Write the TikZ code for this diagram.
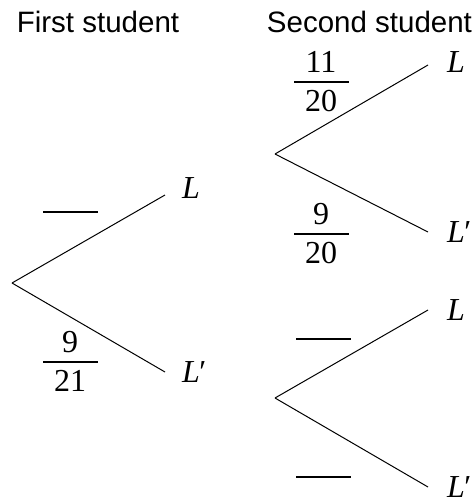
\documentclass[tikz,border=0pt]{standalone}
\usepackage{fontspec}
\setmainfont{Liberation Serif}
\newfontfamily\headfont{Liberation Sans}
\usetikzlibrary{positioning}
\tikzset{
  every node/.style={inner sep=0pt, outer sep=0pt},
  branch/.style={draw=black, line width=1pt},
  head/.style={font=\headfont\fontsize{29.5}{32}\selectfont},
  leaf/.style={font=\fontsize{32}{36}\selectfont\itshape, anchor=west},
  fbar/.style={minimum width=55pt, minimum height=1.1pt, fill=black},
  num/.style={font=\fontsize{32}{36}\selectfont},
}
\newcommand{\Lp}{L\kern-2.5pt′}
\begin{document}
\begin{tikzpicture}[x=1pt, y=-1pt]
\useasboundingbox (0,0) rectangle (472,504);
% ---- headings -----------------------------------------------------------------
\node[head] (first)  at (98, 22) {First student};
\node[head, anchor=east] (second) at (472, 22) {Second student};

% ---- first student ------------------------------------------------------------
\coordinate (r1)  at (12, 283);
\coordinate (r1u) at (165, 195);
\coordinate (r1d) at (165, 372);
\node[leaf, right=17pt of r1u, yshift=7pt] (r1uL) {L};
\node[leaf, right=17pt of r1d] (r1dL) {\Lp};
\draw[branch] (r1) -- (r1u);
\draw[branch] (r1) -- (r1d);
\node[fbar] (b1u) at (70, 212) {};
\node[fbar] (b1d) at (70, 362) {};
\node[num, above=9pt of b1d] (n1d) {9};
\node[num, below=8pt of b1d] (d1d) {21};

% ---- second student, upper ----------------------------------------------------
\coordinate (r2)  at (275, 154);
\coordinate (r2u) at (428, 65);
\coordinate (r2d) at (428, 232);
\node[leaf, right=19pt of r2u, yshift=3pt] (r2uL) {L};
\node[leaf, right=19pt of r2d] (r2dL) {\Lp};
\draw[branch] (r2) -- (r2u);
\draw[branch] (r2) -- (r2d);
\node[fbar] (b2u) at (321, 82) {};
\node[num, above=9pt of b2u] (n2u) {11};
\node[num, below=8pt of b2u] (d2u) {20};
\node[fbar] (b2d) at (321, 234) {};
\node[num, above=9pt of b2d] (n2d) {9};
\node[num, below=8pt of b2d] (d2d) {20};

% ---- second student, lower ----------------------------------------------------
\coordinate (r3)  at (275, 398);
\coordinate (r3u) at (428, 310);
\coordinate (r3d) at (428, 487);
\node[leaf, right=19pt of r3u] (r3uL) {L};
\node[leaf, right=19pt of r3d] (r3dL) {\Lp};
\draw[branch] (r3) -- (r3u);
\draw[branch] (r3) -- (r3d);
\node[fbar] (b3u) at (323, 339) {};
\node[fbar] (b3d) at (323, 477) {};
\end{tikzpicture}
\end{document}
